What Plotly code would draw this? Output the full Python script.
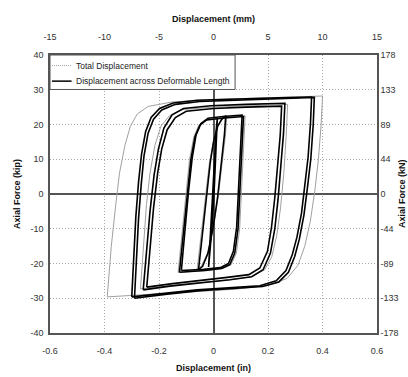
import plotly.graph_objects as go

# ---------------- data (displacement in inches, axial force in kip) ----------------
# Displacement across deformable length (black), several cycles at increasing amplitude
deform_el_disp = [-0.018, -0.012, -0.005, 0.004, 0.010, 0.014, 0.010, 0.003, -0.006, -0.013, -0.018]
deform_el_force = [-21.0, -12.0, -1.0, 11.0, 18.5, 21.8, 13.0, 2.0, -10.0, -18.0, -21.0]

deform_l1_disp = [-0.055, -0.045, -0.030, -0.012, 0.000, 0.015, 0.030, 0.045, 0.040, 0.030, 0.015, 0.000, -0.020, -0.040, -0.055]
deform_l1_force = [-21.8, -15.0, -3.0, 9.0, 15.0, 19.5, 21.5, 22.5, 17.0, 9.0, -1.0, -9.0, -17.0, -20.8, -21.8]

deform_l2a_disp = [-0.125, -0.112, -0.098, -0.083, -0.068, -0.050, -0.025, 0.030, 0.110, 0.104, 0.098, 0.090, 0.078, 0.060, 0.030, -0.030, -0.125]
deform_l2a_force = [-22.5, -12.0, 0.0, 10.0, 16.5, 19.8, 21.3, 21.8, 22.3, 12.0, 0.0, -10.0, -17.0, -20.3, -21.4, -22.0, -22.5]
deform_l2b_disp = [-0.118, -0.106, -0.092, -0.078, -0.064, -0.046, -0.020, 0.035, 0.105, 0.099, 0.093, 0.085, 0.073, 0.055, 0.025, -0.035, -0.118]
deform_l2b_force = [-22.0, -11.0, 0.5, 10.5, 17.0, 20.3, 21.8, 22.3, 22.7, 13.0, 1.0, -9.5, -16.5, -20.0, -21.2, -21.7, -22.0]

deform_l3a_disp = [-0.245, -0.232, -0.220, -0.205, -0.190, -0.170, -0.140, -0.100, 0.000, 0.120, 0.250, 0.245, 0.235, 0.225, 0.213, 0.198, 0.170, 0.130, 0.050, -0.050, -0.150, -0.245]
deform_l3a_force = [-26.8, -15.0, -4.0, 6.0, 13.0, 18.5, 22.0, 23.8, 24.6, 25.0, 25.3, 17.0, 7.0, -1.0, -9.5, -16.5, -21.3, -23.2, -24.0, -24.8, -25.8, -26.8]
deform_l3b_disp = [-0.258, -0.246, -0.233, -0.218, -0.202, -0.182, -0.152, -0.110, -0.010, 0.120, 0.262, 0.257, 0.247, 0.237, 0.225, 0.209, 0.182, 0.140, 0.060, -0.050, -0.160, -0.258]
deform_l3b_force = [-27.6, -16.0, -5.0, 5.5, 13.0, 19.0, 22.8, 24.6, 25.4, 25.8, 26.1, 17.5, 7.0, -1.5, -10.0, -17.0, -21.8, -23.8, -24.7, -25.5, -26.5, -27.6]

deform_l4a_disp = [-0.290, -0.283, -0.275, -0.265, -0.255, -0.240, -0.220, -0.190, -0.140, -0.050, 0.100, 0.250, 0.370, 0.366, 0.357, 0.345, 0.332, 0.315, 0.298, 0.275, 0.240, 0.180, 0.080, -0.050, -0.170, -0.290]
deform_l4a_force = [-30.0, -18.0, -7.0, 3.0, 11.0, 17.5, 21.5, 24.2, 25.8, 26.6, 27.1, 27.5, 27.8, 20.0, 10.0, 2.0, -6.0, -13.0, -18.0, -22.5, -25.3, -26.6, -27.2, -27.8, -28.8, -30.0]
deform_l4b_disp = [-0.300, -0.293, -0.285, -0.275, -0.264, -0.249, -0.229, -0.198, -0.148, -0.060, 0.090, 0.240, 0.360, 0.356, 0.347, 0.336, 0.323, 0.306, 0.289, 0.266, 0.230, 0.170, 0.070, -0.060, -0.180, -0.300]
deform_l4b_force = [-29.6, -17.5, -6.5, 3.5, 11.5, 18.0, 22.0, 24.6, 26.2, 27.0, 27.4, 27.7, 27.9, 20.5, 10.5, 2.5, -5.5, -12.5, -17.5, -22.0, -25.0, -26.4, -27.0, -27.6, -28.6, -29.6]

# Total displacement (gray), cycles at increasing amplitude
total_l1_disp = [-0.060, -0.050, -0.034, -0.015, 0.000, 0.017, 0.033, 0.049, 0.044, 0.033, 0.017, 0.000, -0.022, -0.044, -0.060]
total_l1_force = [-21.7, -15.0, -3.0, 9.0, 15.0, 19.5, 21.6, 22.6, 17.0, 9.0, -1.0, -9.0, -17.0, -20.7, -21.7]

total_l2_disp = [-0.130, -0.117, -0.103, -0.088, -0.072, -0.054, -0.028, 0.030, 0.116, 0.110, 0.104, 0.096, 0.084, 0.065, 0.034, -0.030, -0.130]
total_l2_force = [-22.6, -12.0, 0.0, 10.0, 16.5, 19.8, 21.3, 21.9, 22.5, 12.0, 0.0, -10.0, -17.0, -20.3, -21.4, -22.0, -22.6]

total_l3_disp = [-0.268, -0.258, -0.246, -0.233, -0.215, -0.193, -0.162, -0.115, 0.000, 0.140, 0.272, 0.267, 0.258, 0.246, 0.232, 0.214, 0.188, 0.140, 0.050, -0.070, -0.170, -0.268]
total_l3_force = [-27.3, -15.0, -3.0, 6.0, 14.0, 19.5, 22.5, 24.3, 25.0, 25.4, 25.8, 17.0, 6.0, -4.0, -12.0, -18.0, -21.8, -23.8, -24.8, -25.6, -26.4, -27.3]

total_l4_disp = [-0.390, -0.375, -0.360, -0.345, -0.325, -0.305, -0.280, -0.240, -0.150, 0.000, 0.200, 0.400, 0.395, 0.385, 0.372, 0.355, 0.335, 0.310, 0.270, 0.200, 0.080, -0.050, -0.200, -0.390]
total_l4_force = [-29.6, -15.0, -4.0, 6.0, 14.0, 19.5, 23.0, 25.2, 26.5, 27.2, 27.7, 28.2, 20.0, 10.0, 1.0, -8.0, -15.0, -20.5, -24.3, -26.3, -27.4, -28.0, -28.8, -29.6]

# axis ticks
x_in_ticks = [-0.6, -0.4, -0.2, 0, 0.2, 0.4, 0.6]
x_in_labels = ["-0.6", "-0.4", "-0.2", "0", "0.2", "0.4", "0.6"]
x_mm_ticks = [-15, -10, -5, 0, 5, 10, 15]
x_mm_labels = ["-15", "-10", "-5", "0", "5", "10", "15"]
y_kip_ticks = [-40, -30, -20, -10, 0, 10, 20, 30, 40]
y_kip_labels = ["-40", "-30", "-20", "-10", "0", "10", "20", "30", "40"]
y_kn_labels = ["-178", "-133", "-89", "-44", "0", "44", "89", "133", "178"]
KIP_TO_KN = 4.448

legend_names = ["Total Displacement", "Displacement across Deformable Length"]


def join(pairs):
    xs, ys = [], []
    for dx, fy in pairs:
        if xs:
            xs.append(None)
            ys.append(None)
        xs.extend(dx)
        ys.extend(fy)
    return xs, ys


total_x, total_y = join([
    (total_l1_disp, total_l1_force),
    (total_l2_disp, total_l2_force),
    (total_l3_disp, total_l3_force),
    (total_l4_disp, total_l4_force),
])
deform_x, deform_y = join([
    (deform_el_disp, deform_el_force),
    (deform_l1_disp, deform_l1_force),
    (deform_l2a_disp, deform_l2a_force),
    (deform_l2b_disp, deform_l2b_force),
    (deform_l3a_disp, deform_l3a_force),
    (deform_l3b_disp, deform_l3b_force),
    (deform_l4a_disp, deform_l4a_force),
    (deform_l4b_disp, deform_l4b_force),
])

FONT = "Liberation Sans, Arial, sans-serif"
TICKFONT = dict(family=FONT, size=9, color="#333333")
TITLEFONT = dict(family=FONT, size=9, color="#111111", weight="bold")
FRAME = "#555555"
GRID = "#a8a8a8"
GRAY_LINE = "#a0a0a0"

fig = go.Figure()
fig.add_trace(go.Scatter(x=total_x, y=total_y, mode="lines", name=legend_names[0],
                         line=dict(color=GRAY_LINE, width=1), showlegend=False))
fig.add_trace(go.Scatter(x=deform_x, y=deform_y, mode="lines", name=legend_names[1],
                         line=dict(color="#000000", width=1.6), showlegend=False))
# invisible trace to activate the secondary axes
fig.add_trace(go.Scatter(x=[None], y=[None], xaxis="x2", yaxis="y2", showlegend=False, hoverinfo="skip"))

# manual legend box (paper coordinates of the plot area)
shapes = [
    dict(type="rect", xref="paper", yref="paper", x0=0, x1=0.566, y0=0.876, y1=1,
         line=dict(color=FRAME, width=1), fillcolor="white", layer="above"),
    dict(type="line", xref="paper", yref="paper", x0=0.006, x1=0.066, y0=0.962, y1=0.962,
         line=dict(color=GRAY_LINE, width=1, dash="1px,1px"), layer="above"),
    dict(type="line", xref="paper", yref="paper", x0=0.006, x1=0.066, y0=0.906, y1=0.906,
         line=dict(color="#000000", width=1.5), layer="above"),
]
annotations = [
    dict(text=legend_names[0], xref="paper", yref="paper", x=0.073, y=0.962,
         xanchor="left", yanchor="middle", showarrow=False,
         font=dict(family=FONT, size=8.5, color="#222222")),
    dict(text=legend_names[1], xref="paper", yref="paper", x=0.073, y=0.906,
         xanchor="left", yanchor="middle", showarrow=False,
         font=dict(family=FONT, size=8.5, color="#222222")),
    dict(text="Axial Force (kN)", xref="paper", yref="paper", x=1, y=0.5,
         xanchor="center", yanchor="middle", xshift=25, textangle=-90, showarrow=False,
         font=TITLEFONT),
]

fig.update_layout(
    width=408, height=377,
    margin=dict(l=50, r=31, t=55, b=44),
    paper_bgcolor="white", plot_bgcolor="white",
    showlegend=False,
    shapes=shapes, annotations=annotations,
    xaxis=dict(range=[-0.6, 0.6], tickvals=x_in_ticks, ticktext=x_in_labels,
               tickfont=TICKFONT, showgrid=True, gridcolor=GRID, griddash="1px,2px", gridwidth=1,
               zeroline=True, zerolinecolor=FRAME, zerolinewidth=1.5,
               showline=True, linecolor=FRAME, linewidth=1.5, ticks="", ticklabelstandoff=8,
               title=dict(text="Displacement (in)", font=TITLEFONT, standoff=10),
               automargin=False),
    xaxis2=dict(range=[-15, 15], tickvals=x_mm_ticks, ticktext=x_mm_labels,
                overlaying="x", side="top",
                tickfont=TICKFONT, showgrid=False, zeroline=False,
                showline=True, linecolor=FRAME, linewidth=1.5, ticks="", ticklabelstandoff=10,
                title=dict(text="Displacement (mm)", font=TITLEFONT, standoff=8),
                automargin=False),
    yaxis=dict(range=[-40, 40], tickvals=y_kip_ticks, ticktext=y_kip_labels,
               tickfont=TICKFONT, showgrid=True, gridcolor=GRID, griddash="1px,2px", gridwidth=1,
               zeroline=True, zerolinecolor=FRAME, zerolinewidth=1.5,
               showline=True, linecolor=FRAME, linewidth=1.5, ticks="", ticklabelstandoff=3,
               title=dict(text="Axial Force (kip)", font=TITLEFONT, standoff=8),
               automargin=False),
    yaxis2=dict(range=[-40 * KIP_TO_KN, 40 * KIP_TO_KN],
                tickvals=[v * KIP_TO_KN for v in y_kip_ticks], ticktext=y_kn_labels,
                overlaying="y", side="right",
                tickfont=TICKFONT, showgrid=False, zeroline=False,
                showline=True, linecolor=FRAME, linewidth=1.5, ticks="",
                automargin=False),
)

fig.write_html("out.html", config={"displayModeBar": False},
               post_script="document.body.style.margin='0';document.body.style.overflow='hidden';")
